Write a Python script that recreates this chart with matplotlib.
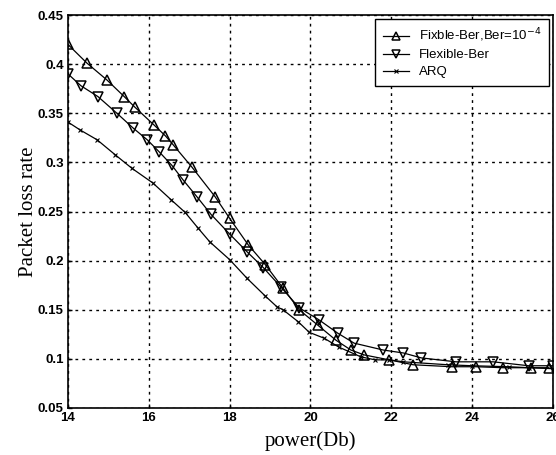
import matplotlib.pyplot as plt

# Fixble-Ber, Ber=10^-4
x_fix = [14.0, 14.47, 14.96, 15.39, 15.66, 16.13, 16.41, 16.6, 17.07, 17.64, 18.0,
         18.46, 18.88, 19.32, 19.72, 20.19, 20.63, 21.0, 21.33, 21.95, 22.54,
         23.5, 24.1, 24.77, 25.46, 25.9]
y_fix = [0.420, 0.401, 0.384, 0.367, 0.356, 0.338, 0.327, 0.318, 0.295, 0.265, 0.243,
         0.216, 0.196, 0.172, 0.150, 0.134, 0.119, 0.109, 0.104, 0.099, 0.094,
         0.092, 0.092, 0.091, 0.091, 0.091]

# Flexible-Ber
x_flex = [14.0, 14.32, 14.74, 15.21, 15.61, 15.96, 16.25, 16.57, 16.85, 17.19, 17.54,
          18.0, 18.43, 18.83, 19.27, 19.72, 20.2, 20.68, 21.08, 21.8, 22.3, 22.74,
          23.6, 24.52, 25.4, 26.0]
y_flex = [0.390, 0.378, 0.367, 0.350, 0.335, 0.323, 0.311, 0.297, 0.282, 0.265, 0.247,
          0.227, 0.209, 0.193, 0.173, 0.152, 0.140, 0.126, 0.116, 0.109, 0.106, 0.101,
          0.097, 0.097, 0.093, 0.093]

# ARQ
x_arq = [14.0, 14.3, 14.72, 15.16, 15.58, 16.1, 16.55, 16.9, 17.22, 17.51, 18.0,
         18.43, 18.88, 19.17, 19.32, 19.69, 19.97, 20.34, 20.7, 21.25, 21.6, 21.95,
         22.3, 23.4, 24.0, 24.9, 25.4, 26.0]
y_arq = [0.341, 0.333, 0.323, 0.308, 0.294, 0.279, 0.262, 0.249, 0.233, 0.219, 0.201,
         0.182, 0.164, 0.153, 0.150, 0.138, 0.127, 0.121, 0.112, 0.102, 0.099, 0.099,
         0.097, 0.094, 0.093, 0.092, 0.091, 0.090]

fig = plt.figure(figsize=(5.56, 4.55), dpi=100)
ax = fig.add_axes([0.1223, 0.1033, 0.8723, 0.8637])

ax.plot(x_fix, y_fix, color='black', lw=0.9, marker='^', ms=7, mfc='none', mew=1.1,
        label='Fixble-Ber,Ber=10$^{-4}$')
ax.plot(x_flex, y_flex, color='black', lw=0.9, marker='v', ms=7, mfc='none', mew=1.1,
        label='Flexible-Ber')
ax.plot(x_arq, y_arq, color='black', lw=0.9, marker='x', ms=3.5, mew=0.8, label='ARQ')

ax.set_xlim(14, 26)
ax.set_ylim(0.05, 0.45)
ax.set_xticks([14, 16, 18, 20, 22, 24, 26])
ax.set_yticks([0.05, 0.1, 0.15, 0.2, 0.25, 0.3, 0.35, 0.4, 0.45])
ax.set_yticklabels(['0.05', '0.1', '0.15', '0.2', '0.25', '0.3', '0.35', '0.4', '0.45'])
ax.grid(True, color='black', linestyle=(0, (2, 3)), linewidth=1.0)
ax.tick_params(direction='in', length=3, labelsize=9.5, width=1, pad=3)
for lab in ax.get_xticklabels() + ax.get_yticklabels():
    lab.set_family('Liberation Sans')
    lab.set_fontweight('bold')
for s in ax.spines.values():
    s.set_linewidth(1.2)

ax.set_xlabel('power(Db)', family='Liberation Serif', fontsize=15, labelpad=5)
ax.set_ylabel('Packet loss rate', family='Liberation Serif', fontsize=15, labelpad=0)

leg = ax.legend(loc='upper right', prop={'family': 'Liberation Sans', 'size': 9.5},
                fancybox=False, edgecolor='black', framealpha=1, borderaxespad=0.3,
                handlelength=2.0, handletextpad=0.7, labelspacing=0.35, borderpad=0.6,
                markerscale=0.75)
leg.get_frame().set_linewidth(1.0)

plt.savefig('out.png', dpi=100)
